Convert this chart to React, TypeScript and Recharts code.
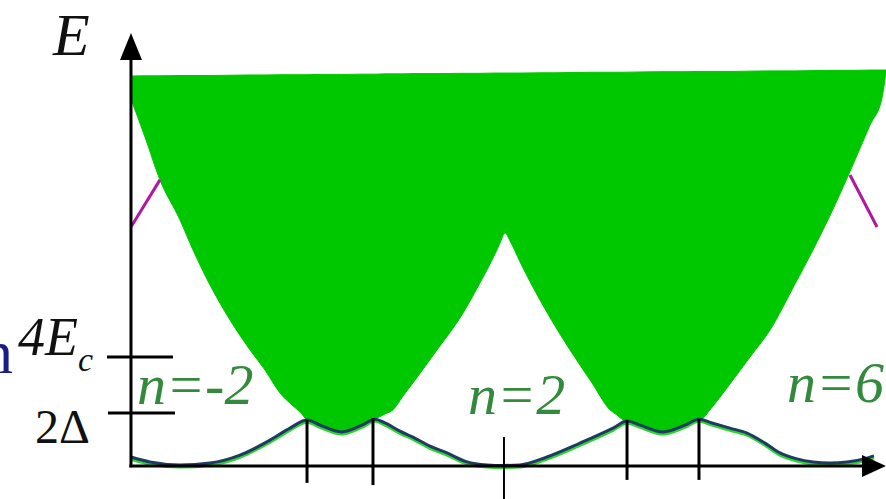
import { ComposedChart, XAxis, YAxis, Area, Line, ReferenceLine, ReferenceDot } from 'recharts';

// x: charge n, y: energy in units of E_c
const N_MIN = -4.229;
const N_MAX = 6.743;
const E_MIN = -1.211;
const E_MAX = 17.101;

// quasiparticle continuum: lower edge and upper cut
const continuumN = [
  -2.607, -2.433, -2.248, -2.0, -1.839, -1.628, -1.381, -1.133, -0.947, -0.762, -0.613, -0.514, -0.427,
  -0.266, 0, 0.254, 0.415, 0.539, 0.638, 0.762, 0.885, 1.183, 1.467, 1.715, 1.901, 1.963, 2.025, 2.087,
  2.211, 2.458, 2.644, 2.83, 3.102, 3.325, 3.412, 3.486, 3.697, 3.981, 4.254, 4.427, 4.477, 4.563, 4.848,
  5.059, 5.307, 5.616, 5.839, 6.111, 6.359, 6.545, 6.693, 6.743,
];
const continuumLow = [
  13.47, 12.07, 10.5, 9.03, 7.93, 6.64, 5.36, 4.26, 3.52, 2.68, 2.24, 1.98, 1.69,
  1.5, 1.25, 1.5, 1.72, 1.91, 2.06, 2.57, 3.05, 4.26, 5.43, 6.72, 7.78, 8.18, 8.55, 8.26,
  7.49, 6.09, 5.14, 4.26, 3.05, 2.06, 1.87, 1.69, 1.5, 1.25, 1.5, 1.72, 1.76, 2.06, 3.16,
  4.0, 4.99, 6.68, 7.93, 9.58, 11.23, 12.51, 13.5, 14.46,
];
const continuumTop = [
  14.31, 14.32, 14.32, 14.33, 14.33, 14.33, 14.34, 14.35, 14.35, 14.36, 14.36, 14.36, 14.36,
  14.37, 14.37, 14.38, 14.38, 14.39, 14.39, 14.39, 14.4, 14.4, 14.41, 14.41, 14.42, 14.42, 14.42, 14.42,
  14.42, 14.43, 14.43, 14.44, 14.45, 14.45, 14.45, 14.45, 14.46, 14.47, 14.47, 14.48, 14.48, 14.48, 14.48,
  14.49, 14.5, 14.5, 14.51, 14.52, 14.52, 14.53, 14.53, 14.53,
];

// lowest band
const bandN = [
  -2.607, -2.372, -2.0, -1.628, -1.257, -0.885, -0.638, -0.427, -0.266, 0, 0.254, 0.415, 0.539, 0.724,
  0.885, 1.096, 1.307, 1.554, 1.802, 2.0, 2.211, 2.545, 2.954, 3.362, 3.536, 3.697, 3.981, 4.254, 4.427,
  4.588, 4.811, 5.022, 5.245, 5.43, 5.641, 5.839, 6.05, 6.26, 6.508, 6.594,
];
const bandE = [
  0.33, 0.15, 0.04, 0.11, 0.4, 0.95, 1.39, 1.69, 1.5, 1.25, 1.5, 1.72, 1.58, 1.28,
  1.06, 0.73, 0.48, 0.15, 0.04, 0.02, 0.04, 0.33, 0.84, 1.39, 1.65, 1.5, 1.25, 1.5, 1.72,
  1.58, 1.39, 1.21, 0.84, 0.48, 0.26, 0.15, 0.11, 0.15, 0.29, 0.37,
];

// visible pieces of the pair parabolas outside the continuum
const pairLeftN = [-2.607, -2.248];
const pairLeftE = [8.77, 10.5];
const pairRightN = [6.297, 6.632];
const pairRightE = [10.68, 8.77];

// vertical ticks on the n axis
const tickN = [-0.427, 0.39, 2.012, 3.536, 4.427];
const tickTop = [1.69, 1.76, 1.06, 1.69, 1.72];
const tickBottom = [-0.62, -0.7, -1.21, -0.51, -0.51];
const tickWidth = [3, 3, 2, 3, 3];

// energy levels marked on the E axis
const levelE = [4, 1.945];
const levelFrom = [-2.904, -2.892];
const levelTo = [-2.087, -2.062];

const AXIS_N = -2.607;
const AXIS_TOP = 14.9;
const ARROW_E = 15.89;

const continuumRows = continuumN.map((n, i) => ({ n, range: [continuumLow[i], continuumTop[i]] }));
const bandRows = bandN.map((n, i) => ({ n, e: bandE[i], shade: bandE[i] - 0.08 }));
const pairLeftRows = pairLeftN.map((n, i) => ({ n, e: pairLeftE[i] }));
const pairRightRows = pairRightN.map((n, i) => ({ n, e: pairRightE[i] }));

const SERIF = '"Liberation Serif", "Times New Roman", serif';
const GREEN_TEXT = '#348a3c';

type P = { cx?: number; cy?: number };

const textAt =
  (content: React.ReactNode, size: number, color: string, italic: boolean, anchor: 'start' | 'end' = 'start') =>
  (p: P) =>
    (
      <text
        x={p.cx}
        y={p.cy}
        fontFamily={SERIF}
        fontSize={size}
        fontStyle={italic ? 'italic' : 'normal'}
        fill={color}
        textAnchor={anchor}
      >
        {content}
      </text>
    );

const upArrow = (p: P) => (
  <polygon
    points={`${p.cx},${p.cy} ${(p.cx ?? 0) - 11},${(p.cy ?? 0) + 27} ${(p.cx ?? 0) + 11},${(p.cy ?? 0) + 27}`}
    fill="#000"
  />
);
const rightArrow = (p: P) => (
  <polygon
    points={`${p.cx},${p.cy} ${(p.cx ?? 0) - 24},${(p.cy ?? 0) - 11} ${(p.cx ?? 0) - 24},${(p.cy ?? 0) + 11}`}
    fill="#000"
  />
);

export default function App() {
  return (
    <div style={{ position: 'fixed', left: 0, top: 0, width: 886, height: 499, background: '#fff' }}>
      <ComposedChart width={886} height={499} margin={{ top: 0, right: 0, bottom: 0, left: 0 }}>
        <XAxis type="number" dataKey="n" domain={[N_MIN, N_MAX]} allowDataOverflow hide />
        <YAxis type="number" domain={[E_MIN, E_MAX]} allowDataOverflow hide />

        <Line data={pairLeftRows} dataKey="e" type="linear" stroke="#b3179f" strokeWidth={3} dot={false} activeDot={false} isAnimationActive={false} />
        <Line data={pairRightRows} dataKey="e" type="linear" stroke="#b3179f" strokeWidth={3} dot={false} activeDot={false} isAnimationActive={false} />

        <Area
          data={continuumRows}
          dataKey="range"
          type="monotone"
          fill="#00c800"
          fillOpacity={1}
          stroke="#00c800"
          strokeWidth={1}
          dot={false}
          activeDot={false}
          isAnimationActive={false}
        />

        <Line data={bandRows} dataKey="shade" type="monotone" stroke="#2fd42f" strokeWidth={3} dot={false} activeDot={false} isAnimationActive={false} />
        <Line data={bandRows} dataKey="e" type="monotone" stroke="#1d3b63" strokeWidth={3} dot={false} activeDot={false} isAnimationActive={false} />

        {/* axes */}
        <ReferenceLine segment={[{ x: AXIS_N, y: -0.05 }, { x: AXIS_N, y: AXIS_TOP }]} stroke="#000" strokeWidth={3} ifOverflow="visible" />
        <ReferenceLine segment={[{ x: AXIS_N - 0.02, y: 0 }, { x: 6.5, y: 0 }]} stroke="#000" strokeWidth={3} ifOverflow="visible" />
        <ReferenceDot x={AXIS_N} y={ARROW_E} r={0} shape={upArrow} ifOverflow="visible" />
        <ReferenceDot x={N_MAX} y={0} r={0} shape={rightArrow} ifOverflow="visible" />

        {tickN.map((n, i) => (
          <ReferenceLine
            key={`t${i}`}
            segment={[{ x: n, y: tickBottom[i] }, { x: n, y: tickTop[i] }]}
            stroke="#000"
            strokeWidth={tickWidth[i]}
            ifOverflow="visible"
          />
        ))}
        {levelE.map((e, i) => (
          <ReferenceLine
            key={`l${i}`}
            segment={[{ x: levelFrom[i], y: e }, { x: levelTo[i], y: e }]}
            stroke="#000"
            strokeWidth={3}
            ifOverflow="visible"
          />
        ))}

        {/* labels */}
        <ReferenceDot x={-3.573} y={15.08} r={0} ifOverflow="visible" shape={textAt('E', 60, '#111', true)} />
        <ReferenceDot
          x={-4.006}
          y={4.07}
          r={0}
          ifOverflow="visible"
          shape={textAt(
            <>
              4E
              <tspan fontSize={34} dy={16}>
                c
              </tspan>
            </>,
            54,
            '#111',
            true,
          )}
        />
        <ReferenceDot x={-3.796} y={0.84} r={0} ifOverflow="visible" shape={textAt('2Δ', 48, '#111', false)} />
        <ReferenceDot x={-4.068} y={3.41} r={0} ifOverflow="visible" shape={textAt('n', 62, '#1c1c86', false, 'end')} />
        <ReferenceDot x={-2.533} y={2.28} r={0} ifOverflow="visible" shape={textAt('n=-2', 58, GREEN_TEXT, true)} />
        <ReferenceDot x={1.567} y={1.91} r={0} ifOverflow="visible" shape={textAt('n=2', 58, GREEN_TEXT, true)} />
        <ReferenceDot x={5.517} y={2.35} r={0} ifOverflow="visible" shape={textAt('n=6', 58, GREEN_TEXT, true)} />
      </ComposedChart>
    </div>
  );
}
